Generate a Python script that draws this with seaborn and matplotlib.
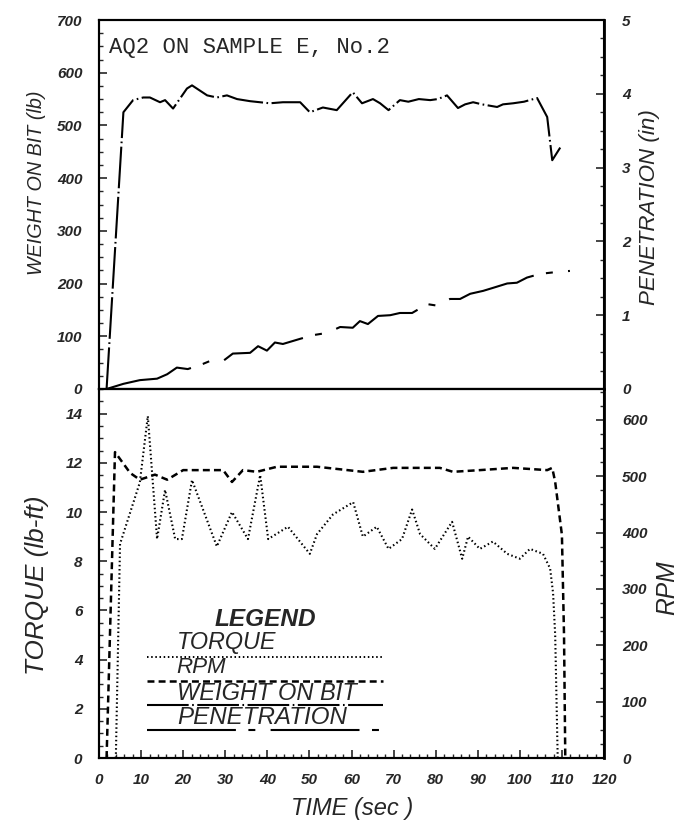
import matplotlib
matplotlib.use("Agg")
import matplotlib.pyplot as plt
import seaborn as sns
import numpy as np
import pandas as pd
from matplotlib.ticker import MultipleLocator

# ---------------- data ----------------
wob_time = [1.8, 5.8, 8.1, 10.5, 12.1, 14.5, 15.7, 17.6, 20.9, 22.1, 25.7, 28.0, 30.4,
            32.8, 35.9, 40.6, 43.7, 47.8, 50.1, 53.2, 56.5, 60.3, 62.5, 65.1, 66.8,
            68.8, 71.5, 73.5, 76.0, 78.7, 80.5, 82.7, 85.3, 87.0, 88.9, 91.0, 94.6,
            96.0, 98.4, 101.0, 104.1, 106.5, 107.7, 109.6]
wob_lb = [0, 525, 548, 553, 553, 544, 548, 532, 570, 576, 557, 553, 557,
          550, 546, 542, 544, 544, 525, 534, 529, 563, 542, 550, 542,
          529, 548, 545, 550, 548, 550, 557, 533, 540, 544, 540, 535,
          540, 542, 545, 552, 516, 434, 458]

pen_time = [1.8, 5.8, 9.7, 13.8, 16.2, 18.5, 21.1, 24.7, 26.4, 29.5, 31.8, 35.9, 37.8,
            39.9, 41.8, 43.7, 47.8, 50.9, 54.2, 57.3, 60.3, 62.0, 63.9, 66.3, 69.2,
            71.5, 74.4, 78.0, 80.3, 83.4, 85.8, 88.2, 91.3, 93.6, 97.0, 99.3, 101.7,
            104.8, 107.9, 111.9]
pen_in = [0, 0.07, 0.12, 0.14, 0.20, 0.29, 0.27, 0.34, 0.38, 0.38, 0.48, 0.49, 0.58,
          0.52, 0.63, 0.61, 0.68, 0.73, 0.76, 0.84, 0.83, 0.92, 0.88, 0.99, 1.00,
          1.03, 1.03, 1.15, 1.13, 1.22, 1.22, 1.29, 1.33, 1.37, 1.43, 1.44, 1.51,
          1.56, 1.58, 1.60]

torque_time = [4.0, 5.0, 9.7, 11.6, 13.8, 15.7, 18.1, 19.7, 22.1, 28.0, 31.6, 35.4,
               38.3, 40.2, 44.9, 50.1, 51.8, 55.6, 60.4, 62.7, 66.0, 68.8, 72.0, 74.4,
               76.3, 79.8, 83.9, 86.3, 87.7, 90.5, 93.6, 97.0, 100.0, 102.4, 105.5,
               107.2, 107.9, 108.4, 109.0]
torque_lbft = [0, 8.7, 11.2, 13.9, 8.9, 10.9, 8.9, 8.9, 11.3, 8.6, 10.0, 8.9,
               11.5, 8.9, 9.4, 8.3, 9.1, 9.9, 10.4, 9.0, 9.4, 8.5, 8.9, 10.1,
               9.1, 8.5, 9.6, 8.1, 9.0, 8.5, 8.8, 8.3, 8.1, 8.5, 8.3,
               7.7, 6.7, 5.0, 0]

rpm_time = [1.8, 3.8, 7.4, 9.7, 13.3, 16.2, 20.0, 29.5, 31.6, 34.2, 37.5, 42.3, 51.8,
            62.7, 69.9, 81.0, 84.1, 90.5, 98.4, 106.5, 107.7, 108.4, 110.0, 110.5, 110.8]
rpm_val = [0, 543, 506, 494, 503, 494, 511, 511, 490, 511, 508, 517, 517,
           508, 515, 515, 508, 511, 515, 511, 515, 490, 396, 218, 0]

title_text = "AQ2 ON SAMPLE E, No.2"
legend_title = "LEGEND"
legend_items = ["TORQUE", "RPM", "WEIGHT ON BIT", "PENETRATION"]

# ---------------- style ----------------
sns.set_theme(style="white")
SANS = ["Liberation Sans", "DejaVu Sans"]
plt.rcParams["font.family"] = SANS
plt.rcParams["font.style"] = "italic"
plt.rcParams["font.weight"] = "bold"
plt.rcParams["lines.scale_dashes"] = False
plt.rcParams["axes.edgecolor"] = "black"

W, H = 678, 823
fig = plt.figure(figsize=(W / 100, H / 100), dpi=100)
fig.patch.set_facecolor("white")


def px_rect(x0, y0, x1, y1):
    return [x0 / W, 1 - y1 / H, (x1 - x0) / W, (y1 - y0) / H]


ax1 = fig.add_axes(px_rect(99, 20, 604, 389))
ax2 = fig.add_axes(px_rect(99, 389, 604, 758))
ax1r = ax1.twinx()
ax2r = ax2.twinx()

DASHDOT = (0, (30, 2.5, 1.2, 2.5))
PENDASH = (0, (64, 9, 5, 11))
RPMDASH = (0, (5, 3))
DOTTED = (0, (1.1, 1.9))

sns.lineplot(x=wob_time, y=wob_lb, ax=ax1, color="black", lw=1.5,
             linestyle=DASHDOT, estimator=None, sort=False)
sns.lineplot(x=pen_time, y=pen_in, ax=ax1r, color="black", lw=1.5,
             linestyle=PENDASH, estimator=None, sort=False)
sns.lineplot(x=torque_time, y=torque_lbft, ax=ax2, color="black", lw=1.5,
             linestyle=DOTTED, estimator=None, sort=False)
sns.lineplot(x=rpm_time, y=rpm_val, ax=ax2r, color="black", lw=1.8,
             linestyle=RPMDASH, estimator=None, sort=False)

for ax in (ax1, ax1r, ax2, ax2r):
    ax.set_xlim(0, 120)
    ax.set_xlabel("")
    ax.set_ylabel("")
    ax.grid(False)
    for sp in ax.spines.values():
        sp.set_linewidth(1.5)
        sp.set_color("black")

ax1.set_ylim(0, 700)
ax1r.set_ylim(0, 5)
ax2.set_ylim(0, 15)
ax2r.set_ylim(0, 655)

ax1.yaxis.set_major_locator(MultipleLocator(100))
ax1.yaxis.set_minor_locator(MultipleLocator(25))
ax1r.yaxis.set_major_locator(MultipleLocator(1))
ax1r.yaxis.set_minor_locator(MultipleLocator(0.25))
ax2.yaxis.set_major_locator(MultipleLocator(2))
ax2.yaxis.set_minor_locator(MultipleLocator(0.5))
ax2r.yaxis.set_major_locator(MultipleLocator(100))
ax2r.yaxis.set_minor_locator(MultipleLocator(25))
ax2.xaxis.set_major_locator(MultipleLocator(10))
ax2.xaxis.set_minor_locator(MultipleLocator(2))

for ax in (ax1, ax1r, ax2r):
    ax.tick_params(axis="x", which="both", bottom=False, top=False,
                   labelbottom=False, labeltop=False)
ax2.tick_params(axis="x", which="both", bottom=True, top=False, direction="in",
                labelbottom=True)
ax2.tick_params(axis="x", which="major", length=6, width=1.2, pad=11, labelsize=11)
ax2.tick_params(axis="x", which="minor", length=3, width=1.0)

for ax in (ax1, ax2):
    ax.tick_params(axis="y", which="both", left=True, right=False, direction="in")
    ax.tick_params(axis="y", which="major", length=6, width=1.2, pad=12, labelsize=11)
    ax.tick_params(axis="y", which="minor", length=3, width=1.0)
for ax in (ax1r, ax2r):
    ax.tick_params(axis="y", which="both", left=False, right=True, direction="in")
    ax.tick_params(axis="y", which="major", length=6, width=1.2, pad=13, labelsize=11)
    ax.tick_params(axis="y", which="minor", length=3, width=1.0)
    ax.spines["right"].set_linewidth(2.0)

# ---------------- texts ----------------
fig.text(109 / W, 1 - 48 / H, title_text, family=["Liberation Mono", "DejaVu Sans Mono"],
         fontsize=16, style="normal", weight="normal", ha="left", va="center")

lab_kw = dict(family=SANS, style="italic", weight="normal",
              ha="center", va="center", fontsize=14)
t_wob = fig.text(37 / W, 1 - 183 / H, "WEIGHT ON BIT (lb)", rotation=90, **lab_kw)
t_tq = fig.text(37 / W, 1 - 585 / H, "TORQUE (lb-ft)", rotation=90, **lab_kw)
t_pen = fig.text(650 / W, 1 - 207 / H, "PENETRATION (in)", rotation=90, **lab_kw)
t_rpm = fig.text(667 / W, 1 - 588 / H, "RPM", rotation=90, **lab_kw)
t_time = fig.text(352 / W, 1 - 809 / H, "TIME (sec )", **lab_kw)

tr = ax2.transAxes
t_leg = ax2.text(0.329, 0.374, legend_title, transform=tr, ha="center", va="center",
                 family=SANS, style="italic", weight="bold", fontsize=15)
item_y = [0.312, 0.244, 0.176, 0.111]
line_y = [0.274, 0.209, 0.144, 0.076]
styles = [(DOTTED, 1.4), (RPMDASH, 1.8), (DASHDOT, 1.5), (PENDASH, 1.5)]
item_texts = []
for lab, ty, ly, (ls, lw) in zip(legend_items, item_y, line_y, styles):
    item_texts.append(ax2.text(0.154, ty, lab, transform=tr, ha="left", va="center",
                               family=SANS, style="italic", weight="normal", fontsize=14))
    ax2.plot([0.095, 0.562], [ly, ly], transform=tr, color="black", lw=lw,
             linestyle=ls, clip_on=False)

# size texts to the lengths measured on the reference (pixels)
fig.canvas.draw()
renderer = fig.canvas.get_renderer()


def fit(t, target, vertical):
    bb = t.get_window_extent(renderer)
    cur = bb.height if vertical else bb.width
    t.set_fontsize(t.get_fontsize() * target / cur)


fit(t_wob, 185, True)
fit(t_tq, 180, True)
fit(t_pen, 197, True)
t_rpm.set_fontsize(t_pen.get_fontsize() * 1.1)
fit(t_time, 122, False)
fit(t_leg, 102, False)
for t, w in zip(item_texts, [100, 50, 180, 170]):
    fit(t, w, False)

fig.savefig("out.png", dpi=100, facecolor="white")
